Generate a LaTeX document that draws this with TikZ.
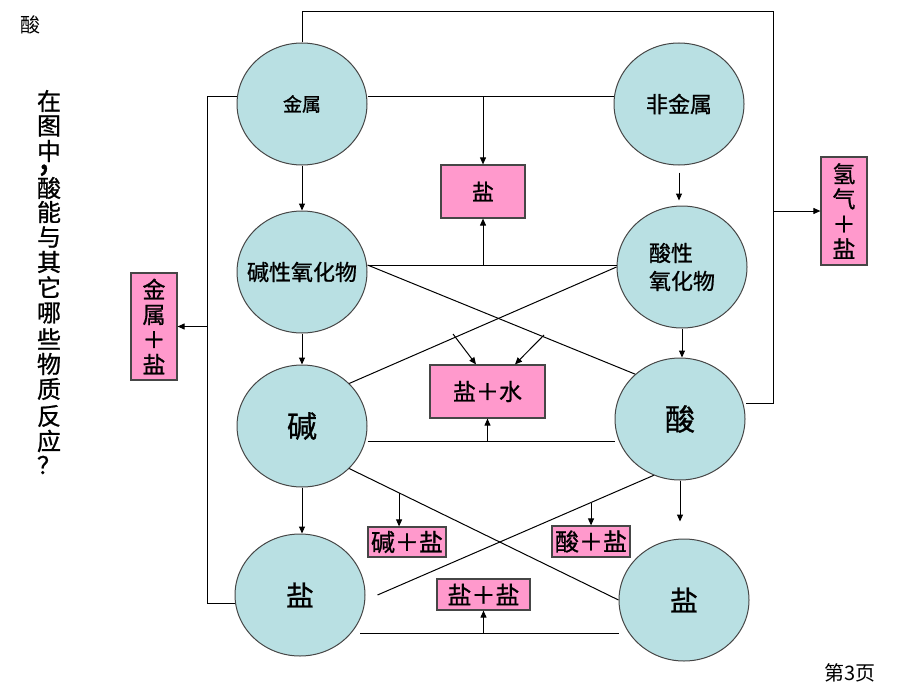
\documentclass[tikz,border=0pt]{standalone}
\usepackage{fontspec}
\setmainfont{Noto Sans CJK SC}
\newfontfamily\hei{Noto Sans CJK SC}[FakeBold=0.9]
\usetikzlibrary{shapes.geometric,arrows.meta,calc}
\definecolor{cfill}{RGB}{185,224,227}
\definecolor{pfill}{RGB}{255,153,204}
\definecolor{bdr}{RGB}{70,70,70}
\newcommand{\lowcomma}{\rlap{\smash{\raisebox{-4.5pt}{\fontsize{18}{18}\selectfont\kern1pt,}}}}
\begin{document}
\begin{tikzpicture}[x=0.5pt,y=-0.5pt,
 circ/.style={ellipse,draw=bdr,fill=cfill,line width=0.5pt,minimum width=65pt,minimum height=61pt,inner sep=0pt},
 pbox/.style={rectangle,draw=bdr,fill=pfill,line width=0.6pt,inner sep=0pt},
 ln/.style={line width=0.5pt,draw=black},
 arr/.style={ln,-{Triangle[length=3.5pt,width=3pt]}},
 fa/.style={font=\hei\fontsize{#1}{#1}\selectfont}]
\useasboundingbox (0,0) rectangle (920,690);

% circles
\node[circ,fa=9.5] (jinshu) at (302,104) {金属};
\node[circ,fa=11] (feijin) at (679,104) {非金属};
\node[circ,fa=11] (jyh) at (302,272) {\makebox[0pt]{碱性氧化物}};
\node[circ,font=\hei\fontsize{11}{14}\selectfont,align=left] (syh) at (682,267) {酸性\\氧化物};
\node[circ,fa=15] (jian) at (302,426) {碱};
\node[circ,fa=15] (suan) at (680,419) {酸};
\node[circ,fa=14] (yanL) at (300,595) {盐};
\node[circ,fa=14] (yanR) at (684,600) {盐};

% boxes
\node[pbox,minimum width=42pt,minimum height=26.5pt,fa=11] (bYan) at (483,191.5) {盐};
\node[pbox,minimum width=57.5pt,minimum height=26.5pt,fa=11.5] (bYanShui) at (487.5,391.5) {盐＋水};
\node[pbox,minimum width=39pt,minimum height=15pt,fa=12] (bJianYan) at (407,542) {碱＋盐};
\node[pbox,minimum width=39pt,minimum height=15.5pt,fa=12] (bSuanYan) at (591,541.5) {酸＋盐};
\node[pbox,minimum width=46.5pt,minimum height=15.5pt,fa=12] (bYanYan) at (483.5,594.5) {盐＋盐};
\node[pbox,minimum width=23pt,minimum height=53.5pt,align=center,font=\hei\fontsize{11.5}{12.5}\selectfont] (bJinYan) at (154,326.5) {金\\属\\＋\\盐};
\node[pbox,minimum width=23pt,minimum height=54pt,align=center,font=\hei\fontsize{11.5}{12.5}\selectfont] (bQingYan) at (844,211) {氢\\气\\＋\\盐};

% texts
\node[font=\fontsize{10}{10}\selectfont] (tl) at (30,25) {酸};
\node[font=\fontsize{10}{10}\selectfont] (pg) at (850,673) {第3页};
\foreach \c/\yy [count=\i] in {在/101,图/126,\lowcomma 中/151,酸/188,能/212,与/237,其/262,它/287,哪/313,些/339,物/364,质/389,反/416,应/441,？/465}
  \node[fa=12,inner sep=0pt] (q\i) at (49,\yy) {\c};

% helper coordinates
\coordinate (rtop) at (773,12);
\coordinate (rbot) at (773,403);
\coordinate (lx) at (207,97);
\coordinate (a1) at ([yshift=3.5pt]jinshu.east);
\coordinate (a2) at ([yshift=3.5pt]jinshu.west);
\coordinate (yLw) at ([yshift=-4pt]yanL.west);
\coordinate (yRn) at ([yshift=8.5pt]yanR.north);
\coordinate (b2) at ([yshift=3.5pt]jyh.east);
\coordinate (c3) at ([yshift=-7.5pt]jian.east);
\coordinate (e1) at ([shift={(30pt,-19pt)}]yanL.center);
\coordinate (f1) at ([yshift=-3.5pt]feijin.south);
\coordinate (f2) at ([yshift=2.5pt]syh.north);
\coordinate (s1) at (453,334);
\coordinate (s2) at (544,335);

% connectors
\draw[ln] (jinshu.north) |- (rtop) -- (rbot) -- (rbot -| suan.east);
\draw[arr] (rtop |- bQingYan.west) -- (bQingYan.west);
\draw[ln] (a1) -- (a1 -| feijin.west);
\draw[arr] (bYan.north |- a1) -- (bYan.north);
\draw[ln] (a2) -- (lx) -- (lx |- yLw) -- (yLw);
\draw[arr] (lx |- bJinYan.east) -- (bJinYan.east);
\draw[arr] (jinshu.south) -- (jyh.north);
\draw[arr] (f1) -- (f1 |- f2);
\draw[arr] (jyh.south) -- (jian.north);
\draw[arr] (syh.south) -- (syh.south |- suan.north);
\draw[arr] (jian.south) -- (jian.south |- yanL.north);
\draw[arr] (suan.south) -- (suan.south |- yRn);

\draw[ln] (b2) -- (b2 -| syh.west);
\draw[arr] (bYan.south |- b2) -- (bYan.south);
\draw[ln] (b2) -- (suan.135);
\draw[ln] (syh.west) -- (jian.42);
\draw[arr] (s1) -- ([xshift=-5.75pt]bYanShui.north);
\draw[arr] (s2) -- ([xshift=13.75pt]bYanShui.north);
\draw[ln] (c3) -- (c3 -| suan.west);
\draw[arr] (bYanShui.south |- c3) -- (bYanShui.south);

\draw[ln] (jian.-42) -- coordinate[pos=0.185] (d1) (yanR.west);
\draw[arr] (d1) -- (d1 |- bJianYan.north);
\draw[ln] (suan.245) -- coordinate[pos=0.227] (d2) ([xshift=6pt]yanL.east);
\draw[arr] (d2) -- (d2 |- bSuanYan.north);
\draw[ln] (e1) -- (e1 -| yanR.west);
\draw[arr] (bYanYan.south |- e1) -- (bYanYan.south);
\end{tikzpicture}
\end{document}
